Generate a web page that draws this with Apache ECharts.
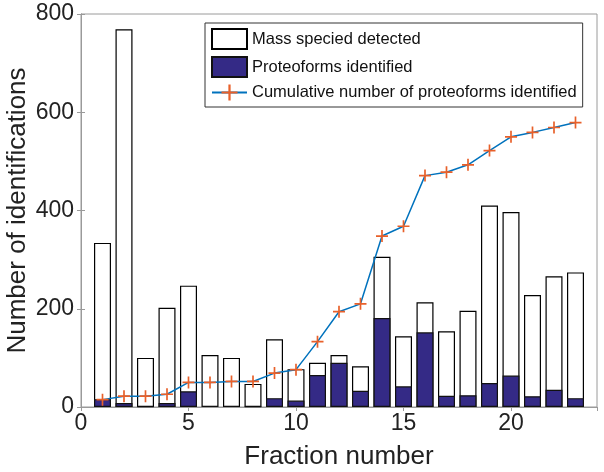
<!DOCTYPE html>
<html>
<head>
<meta charset="utf-8">
<script src="https://cdn.jsdelivr.net/npm/echarts@6/dist/echarts.min.js"></script>
<style>
html,body{margin:0;padding:0;background:#fff;}
#chart{width:604px;height:472px;}
</style>
</head>
<body>
<div id="chart"></div>
<script>
const fractions = [1,2,3,4,5,6,7,8,9,10,11,12,13,14,15,16,17,18,19,20,21,22,23];
const massSpecies = [334,769,100,202,247,106,100,47,138,77,90,106,83,306,144,213,154,196,410,397,228,266,274];
const proteoforms = [16,8,1,8,32,2,2,1,18,13,65,90,33,181,42,152,23,24,49,64,22,35,18];
const cumulative = [15,22,22,26,50,50,52,52,69,76,133,194,210,348,368,471,478,493,522,550,559,569,579];
const xTicks = [0,5,10,15,20];
const yTicks = [0,200,400,600,800];

const FONT = "'Liberation Sans', Arial, Helvetica, sans-serif";
const frameColor = '#9a9a9a';
const plus = 'path://M0,8.6H20V11.4H0Z M8.6,0H11.4V20H8.6Z';

const chart = echarts.init(document.getElementById('chart'), null, {renderer:'canvas'});
const pair = (xs, ys) => xs.map((x,i)=>[x, ys[i]]);

chart.setOption({
  animation:false,
  backgroundColor:'#fff',
  textStyle:{fontFamily:FONT},
  grid:{left:81, right:7, top:14, bottom:65, show:true, borderColor:frameColor, borderWidth:1,
        containLabel:false, outerBoundsMode:'none'},
  legend:{
    left:205, top:23, orient:'vertical',
    itemWidth:35, itemHeight:20, itemGap:6,
    padding:[5,6,6,6],
    backgroundColor:'#fff', borderColor:'#333', borderWidth:1,
    textStyle:{fontFamily:FONT, fontSize:16.5, color:'#111'},
    data:[
      {name:'Mass specied detected', icon:'rect'},
      {name:'Proteoforms identified', icon:'rect'},
      {name:'Cumulative number of proteoforms identified'}
    ]
  },
  xAxis:[{
    type:'value', min:0, max:24, interval:5,
    name:'Fraction number', nameLocation:'middle', nameGap:37, nameMoveOverlap:false,
    nameTextStyle:{fontFamily:FONT, fontSize:26, color:'#222'},
    axisLine:{show:true, lineStyle:{color:frameColor}},
    axisTick:{show:true, inside:true, length:4, lineStyle:{color:frameColor}},
    axisLabel:{fontFamily:FONT, fontSize:23, color:'#222', margin:5, showMaxLabel:false,
      formatter:v=> xTicks.includes(v) ? String(v) : ''},
    splitLine:{show:false}
  },{
    type:'value', min:0, max:24, interval:5, position:'top',
    axisLine:{show:true, lineStyle:{color:frameColor}},
    axisTick:{show:true, inside:true, length:4, lineStyle:{color:frameColor}},
    axisLabel:{show:false}, splitLine:{show:false}
  }],
  yAxis:[{
    type:'value', min:0, max:800, interval:200,
    name:'Number of identifications', nameLocation:'middle', nameGap:50, nameRotate:90,
    nameMoveOverlap:false,
    nameTextStyle:{fontFamily:FONT, fontSize:26, color:'#222'},
    axisLine:{show:true, lineStyle:{color:frameColor}},
    axisTick:{show:true, inside:true, length:4, lineStyle:{color:frameColor}},
    axisLabel:{fontFamily:FONT, fontSize:23, color:'#222', margin:7,
      formatter:v=> yTicks.includes(v) ? String(v) : ''},
    splitLine:{show:false}
  },{
    type:'value', min:0, max:800, interval:200, position:'right',
    axisLine:{show:true, lineStyle:{color:frameColor}},
    axisTick:{show:true, inside:true, length:4, lineStyle:{color:frameColor}},
    axisLabel:{show:false}, splitLine:{show:false}
  }],
  series:[{
    name:'Mass specied detected', type:'bar', xAxisIndex:0, yAxisIndex:0,
    data:pair(fractions, massSpecies), barWidth:17, barGap:'-100%',
    itemStyle:{color:'#fff', borderColor:'#000', borderWidth:1.2}, z:2
  },{
    name:'Proteoforms identified', type:'bar', xAxisIndex:0, yAxisIndex:0,
    data:pair(fractions, proteoforms), barWidth:17, barGap:'-100%',
    itemStyle:{color:'#342a86', borderColor:'#111', borderWidth:1.2}, z:3
  },{
    name:'Cumulative number of proteoforms identified', type:'line', xAxisIndex:0, yAxisIndex:0,
    data:pair(fractions, cumulative),
    lineStyle:{color:'#0072BD', width:1.5},
    symbol:plus, symbolSize:12, showAllSymbol:true,
    itemStyle:{color:'#E8602A', borderWidth:0}, z:5
  }]
});
</script>
</body>
</html>
